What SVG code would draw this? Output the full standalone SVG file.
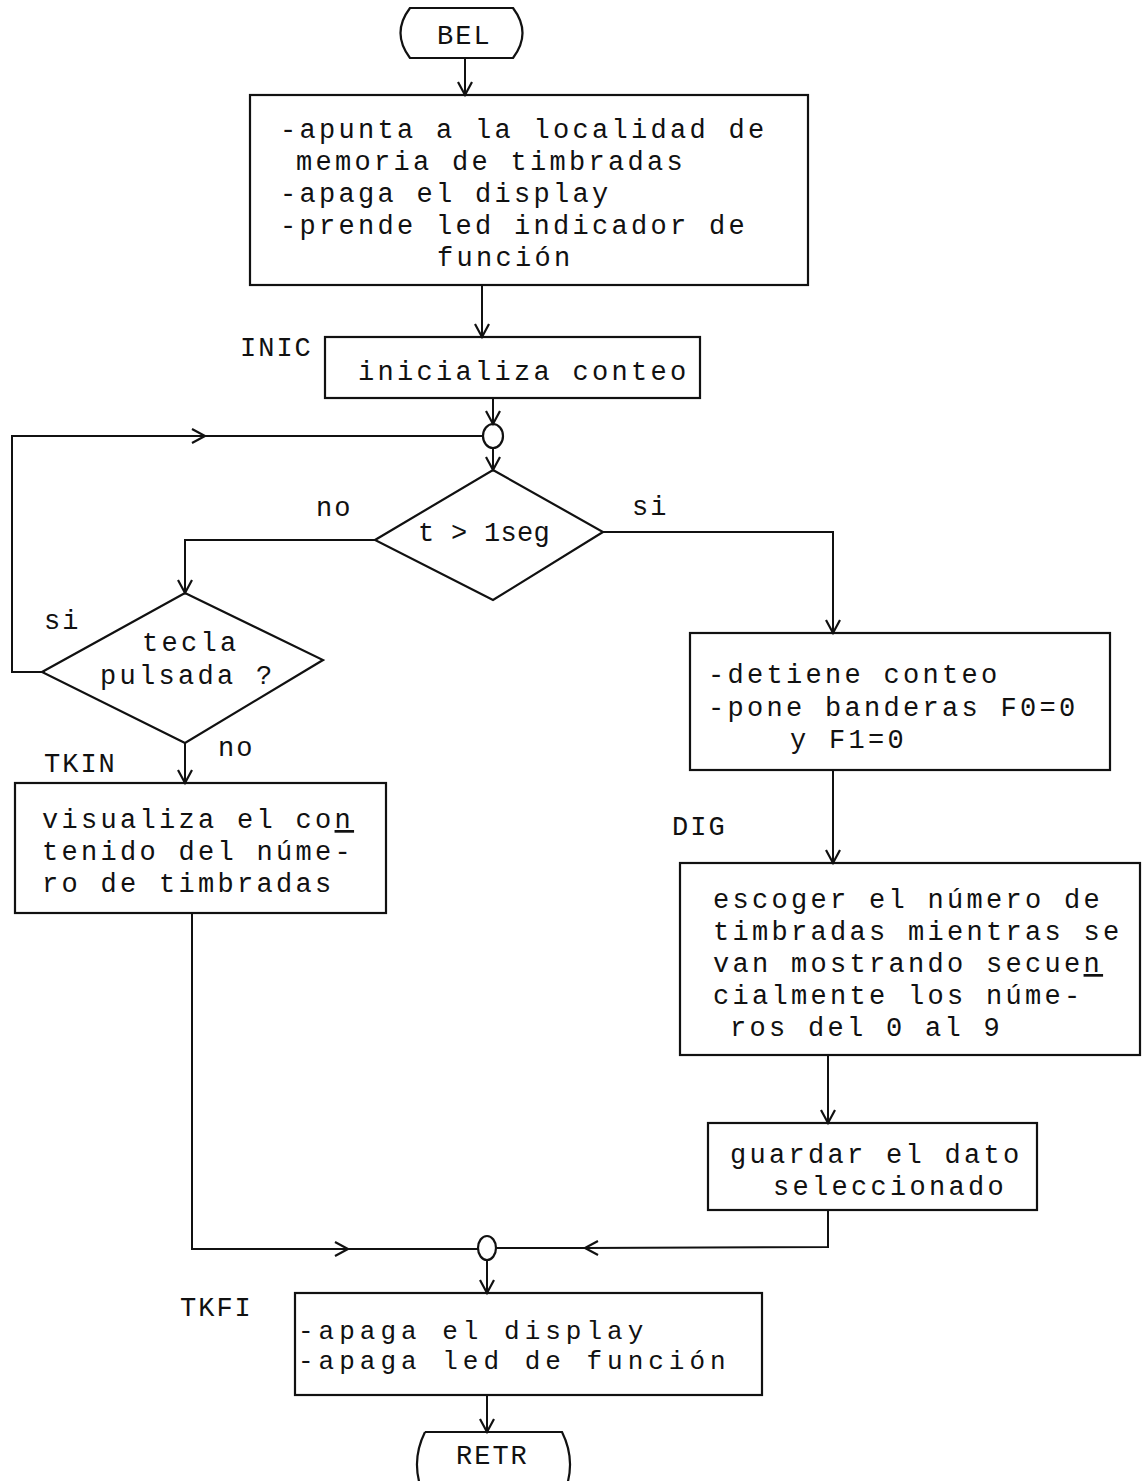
<svg xmlns="http://www.w3.org/2000/svg" width="1147" height="1481" viewBox="0 0 1147 1481">
<defs>
<marker id="arr" markerUnits="userSpaceOnUse" markerWidth="30" markerHeight="30" refX="0" refY="0" viewBox="-15 -15 30 30" orient="auto" overflow="visible">
<path d="M-13,-7 L0,0 L-13,7" fill="none" stroke="#111" stroke-width="2.2"/>
</marker>
<style>
.shape{fill:none;stroke:#111;stroke-width:2.2}
.line{fill:none;stroke:#111;stroke-width:2}
.t{font-family:"Liberation Mono","DejaVu Sans Mono",monospace;font-size:27px;letter-spacing:3.3px;fill:#111}
.s{font-family:"Liberation Mono","DejaVu Sans Mono",monospace;font-size:26px;letter-spacing:5px;fill:#111}
.lbl{font-family:"Liberation Mono","DejaVu Sans Mono",monospace;font-size:27px;letter-spacing:2px;fill:#111}
</style>
</defs>
<rect width="1147" height="1481" fill="#fff"/>

<g id="connectors">
<line class="line" x1="465" y1="58" x2="465" y2="95" marker-end="url(#arr)"/>
<line class="line" x1="482" y1="285" x2="482" y2="337" marker-end="url(#arr)"/>
<line class="line" x1="493" y1="398" x2="493" y2="424" marker-end="url(#arr)"/>
<line class="line" x1="493" y1="448" x2="493" y2="470" marker-end="url(#arr)"/>
<path class="line" d="M45,672 L12,672 L12,436 L205,436" marker-end="url(#arr)"/>
<line class="line" x1="205" y1="436" x2="484" y2="436"/>
<path class="line" d="M375,540 L185,540 L185,593" marker-end="url(#arr)"/>
<path class="line" d="M603,532 L833,532 L833,633" marker-end="url(#arr)"/>
<line class="line" x1="185" y1="743" x2="185" y2="783" marker-end="url(#arr)"/>
<path class="line" d="M192,913 L192,1249 L348,1249" marker-end="url(#arr)"/>
<line class="line" x1="348" y1="1249" x2="478" y2="1249"/>
<line class="line" x1="833" y1="770" x2="833" y2="863" marker-end="url(#arr)"/>
<line class="line" x1="828" y1="1055" x2="828" y2="1123" marker-end="url(#arr)"/>
<path class="line" d="M828,1210 L828,1247 L585,1248" marker-end="url(#arr)"/>
<line class="line" x1="585" y1="1248" x2="497" y2="1248"/>
<line class="line" x1="487" y1="1260" x2="487" y2="1293" marker-end="url(#arr)"/>
<line class="line" x1="487" y1="1395" x2="487" y2="1432" marker-end="url(#arr)"/>
</g>

<g id="bel">
<path class="shape" d="M410,8 L513,8 Q532,33 513,58 L410,58 Q391,33 410,8 Z"/>
<text class="lbl" x="437" y="44">BEL</text>
</g>

<g id="box1">
<rect class="shape" x="250" y="95" width="558" height="190"/>
<text class="t" x="280" y="138">-apunta a la localidad de</text>
<text class="t" x="296" y="170">memoria de timbradas</text>
<text class="t" x="280" y="202">-apaga el display</text>
<text class="t" x="280" y="234">-prende led indicador de</text>
<text class="t" x="437" y="266">función</text>
</g>

<g id="inic">
<text class="lbl" x="240" y="356">INIC</text>
<rect class="shape" x="325" y="337" width="375" height="61"/>
<text class="t" x="358" y="380">inicializa conteo</text>
</g>

<g id="merge1">
<ellipse class="shape" cx="493" cy="436" rx="10" ry="12"/>
</g>

<g id="diamond1">
<polygon class="shape" points="493,470 603,532 493,600 375,540"/>
<text class="t" x="418" y="541" textLength="135" lengthAdjust="spacing">t &gt; 1seg</text>
<text class="lbl" x="316" y="516">no</text>
<text class="lbl" x="632" y="515">si</text>
</g>

<g id="diamond2">
<polygon class="shape" points="185,593 323,660 185,743 42,672"/>
<text class="t" x="142" y="651">tecla</text>
<text class="t" x="100" y="684">pulsada ?</text>
<text class="lbl" x="44" y="629">si</text>
<text class="lbl" x="218" y="756">no</text>
</g>

<g id="tkin">
<text class="lbl" x="44" y="772">TKIN</text>
<rect class="shape" x="15" y="783" width="371" height="130"/>
<text class="t" x="42" y="828">visualiza el co<tspan text-decoration="underline">n</tspan></text>
<text class="t" x="42" y="860">tenido del núme-</text>
<text class="t" x="42" y="892">ro de timbradas</text>
</g>

<g id="detiene">
<rect class="shape" x="690" y="633" width="420" height="137"/>
<text class="t" x="708" y="683">-detiene conteo</text>
<text class="t" x="708" y="716">-pone banderas F0=0</text>
<text class="t" x="790" y="748">y F1=0</text>
</g>

<g id="dig">
<text class="lbl" x="672" y="835">DIG</text>
<rect class="shape" x="680" y="863" width="460" height="192"/>
<text class="t" x="713" y="908">escoger el número de</text>
<text class="t" x="713" y="940">timbradas mientras se</text>
<text class="t" x="713" y="972">van mostrando secue<tspan text-decoration="underline">n</tspan></text>
<text class="t" x="713" y="1004">cialmente los núme-</text>
<text class="t" x="730" y="1036">ros del 0 al 9</text>
</g>

<g id="guardar">
<rect class="shape" x="708" y="1123" width="329" height="87"/>
<text class="t" x="730" y="1163">guardar el dato</text>
<text class="t" x="773" y="1195">seleccionado</text>
</g>

<g id="merge2">
<ellipse class="shape" cx="487" cy="1248" rx="9" ry="12"/>
</g>

<g id="tkfi">
<text class="lbl" x="180" y="1316">TKFI</text>
<rect class="shape" x="295" y="1293" width="467" height="102"/>
<text class="s" x="298" y="1339">-apaga el display</text>
<text class="s" x="298" y="1369">-apaga led de función</text>
</g>

<g id="retr">
<path class="shape" d="M425,1432 L562,1432 Q575,1458 567,1485 M420,1485 Q412,1458 425,1432"/>
<text class="lbl" x="456" y="1464">RETR</text>
</g>
</svg>
